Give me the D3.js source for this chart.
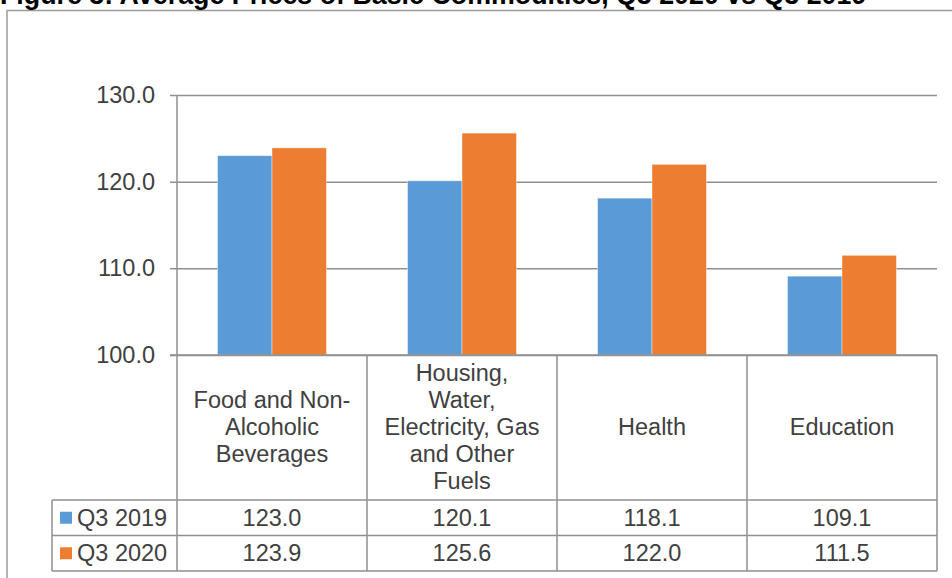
<!DOCTYPE html>
<html>
<head>
<meta charset="utf-8">
<script src="https://cdn.jsdelivr.net/npm/d3@7"></script>
<style>
  html, body { margin: 0; padding: 0; background: #fff; }
  svg { display: block; font-family: "Liberation Sans", Arial, sans-serif; }
</style>
</head>
<body>
<svg id="chart" width="952" height="578"></svg>
<script>
const title = "Figure 3: Average Prices of Basic Commodities, Q3 2020 vs Q3 2019";
const categories = ["Food and Non-Alcoholic Beverages", "Housing, Water, Electricity, Gas and Other Fuels", "Health", "Education"];
const categoryLines = [
  ["Food and Non-", "Alcoholic", "Beverages"],
  ["Housing,", "Water,", "Electricity, Gas", "and Other", "Fuels"],
  ["Health"],
  ["Education"]
];
const seriesNames = ["Q3 2019", "Q3 2020"];
const q3_2019 = [123.0, 120.1, 118.1, 109.1];
const q3_2020 = [123.9, 125.6, 122.0, 111.5];
const yTicks = [100, 110, 120, 130];
const colors = ["#5B9BD5", "#ED7D31"];

const seriesValues = [q3_2019, q3_2020];
const svg = d3.select("#chart");
const textColor = "#404040";
const lineColor = "#8f8f8f";
const fontSize = 23.5;

svg.append("rect").attr("width", 952).attr("height", 578).attr("fill", "#fff");

// outer frame
svg.append("rect").attr("x", 7).attr("y", 10.5).attr("width", 1000).attr("height", 700)
  .attr("fill", "none").attr("stroke", "#9a9a9a").attr("stroke-width", 1.5);

// title (partially cut at top, as in the reference)
const t = svg.append("text").attr("x", 0).attr("y", 3.5)
  .attr("font-weight", "bold").attr("font-size", 22).attr("fill", "#000").text(title);
const tw = t.node().getComputedTextLength();
t.attr("font-size", 22 * 867 / tw);

const plotLeft = 177, plotRight = 937, plotTop = 95, plotBottom = 355;
const headerBottom = 500, row1Bottom = 535.5, row2Bottom = 571, legendLeft = 52;

const x = d3.scaleBand().domain(categories).range([plotLeft, plotRight]).paddingInner(0).paddingOuter(0);
const xs = d3.scaleBand().domain(seriesNames).range([0, x.bandwidth()]).paddingInner(0).paddingOuter(0.745);
const y = d3.scaleLinear().domain([100, 130]).range([plotBottom, plotTop]);

// gridlines + ticks
const yAxis = d3.axisLeft(y).tickValues(yTicks).tickSize(0).tickFormat(d3.format(".1f"));
const gy = svg.append("g").attr("transform", `translate(${plotLeft},0)`).call(yAxis);
gy.select(".domain").remove();
gy.selectAll("text").attr("x", -22).attr("font-size", fontSize).attr("fill", textColor)
  .attr("font-family", "Liberation Sans, Arial, sans-serif");
gy.selectAll(".tick line").attr("x1", -7).attr("x2", plotRight - plotLeft)
  .attr("stroke", lineColor).attr("stroke-width", 1.5);

// bars
categories.forEach((c, i) => {
  seriesNames.forEach((s, j) => {
    const v = seriesValues[j][i];
    svg.append("rect")
      .attr("x", x(c) + xs(s))
      .attr("y", y(v))
      .attr("width", xs.bandwidth())
      .attr("height", y(100) - y(v))
      .attr("fill", colors[j])
      .attr("stroke", "#ffffff").attr("stroke-opacity", 0.5).attr("stroke-width", 0.8);
  });
});

// table lines
const tl = svg.append("g").attr("stroke", lineColor).attr("stroke-width", 1.5);
tl.append("line").attr("x1", plotLeft - 7).attr("x2", plotRight).attr("y1", plotBottom).attr("y2", plotBottom);
tl.append("line").attr("x1", plotLeft).attr("x2", plotLeft).attr("y1", plotTop).attr("y2", row2Bottom);
categories.forEach(c => {
  const xr = x(c) + x.bandwidth();
  tl.append("line").attr("x1", xr).attr("x2", xr).attr("y1", plotBottom).attr("y2", row2Bottom);
});
[headerBottom, row1Bottom, row2Bottom].forEach(yy => {
  tl.append("line").attr("x1", legendLeft).attr("x2", plotRight).attr("y1", yy).attr("y2", yy);
});
tl.append("line").attr("x1", legendLeft).attr("x2", legendLeft).attr("y1", headerBottom).attr("y2", row2Bottom);

// header labels
const headerMid = (plotBottom + headerBottom) / 2;
const lh = 27;
categories.forEach((c, i) => {
  const lines = categoryLines[i];
  const tx = svg.append("text").attr("text-anchor", "middle").attr("font-size", fontSize).attr("fill", textColor);
  lines.forEach((ln, k) => {
    tx.append("tspan").attr("x", x(c) + x.bandwidth() / 2)
      .attr("y", headerMid + (k - (lines.length - 1) / 2) * lh + 7.5)
      .text(ln);
  });
});

// data rows
const rowTops = [headerBottom, row1Bottom];
const rowBottoms = [row1Bottom, row2Bottom];
seriesNames.forEach((s, j) => {
  const mid = (rowTops[j] + rowBottoms[j]) / 2;
  svg.append("rect").attr("x", 60).attr("y", mid - 6).attr("width", 12).attr("height", 12).attr("fill", colors[j]);
  svg.append("text").attr("x", 77).attr("y", mid + 8).attr("font-size", fontSize).attr("fill", textColor).text(s);
  categories.forEach((c, i) => {
    svg.append("text").attr("x", x(c) + x.bandwidth() / 2).attr("y", mid + 8)
      .attr("text-anchor", "middle").attr("font-size", fontSize).attr("fill", textColor)
      .text(d3.format(".1f")(seriesValues[j][i]));
  });
});
</script>
</body>
</html>
